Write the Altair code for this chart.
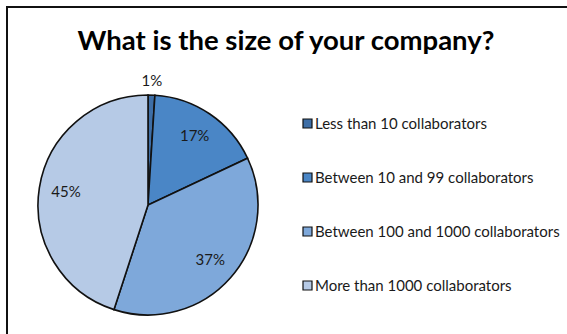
import altair as alt
import pandas as pd

# Survey answers: company size
categories = [
    "Less than 10 collaborators",
    "Between  10 and 99 collaborators",
    "Between  100 and 1000 collaborators",
    "More than 1000 collaborators",
]
shares = [1, 17, 37, 45]
slice_colors = ["#3e6ea6", "#4a86c6", "#7ea8da", "#b6cae6"]

df = pd.DataFrame({
    "category": categories,
    "share": shares,
    "idx": list(range(len(categories))),
})
df["label"] = [f"{v}%" for v in shares]

FONT = "Lato"
CX, CY, R = 141, 198, 110

base = alt.Chart(df).encode(
    theta=alt.Theta("share:Q", stack=True),
    order=alt.Order("idx:Q", sort="ascending"),
)

# outer frame of the chart area (runs off the right and bottom edges)
frame = alt.Chart(df).mark_rect(
    fill=None, stroke="#111111", strokeWidth=2
).encode(
    x=alt.value(0), x2=alt.value(600), y=alt.value(0), y2=alt.value(360)
)

pie = base.mark_arc(
    outerRadius=R, stroke="#111111", strokeWidth=1.6, x=CX, y=CY
).encode(
    color=alt.Color(
        "category:N",
        scale=alt.Scale(domain=categories, range=slice_colors),
        sort=categories,
        legend=alt.Legend(
            title=None,
            orient="none",
            legendX=293,
            legendY=109,
            padding=0,
            symbolType="square",
            symbolSize=81,
            symbolStrokeColor="#111111",
            symbolStrokeWidth=1.2,
            symbolOpacity=1,
            labelFont=FONT,
            labelFontSize=15,
            labelColor="#1a1a1a",
            labelOffset=0,
            labelLimit=400,
            rowPadding=38,
        ),
    )
)

inner_labels = base.transform_calculate(
    txt="datum.idx > 0 ? datum.label : ''"
).mark_text(
    radius=83, x=CX, y=CY, font=FONT, fontSize=15, color="#1a1a1a"
).encode(text="txt:N")

outer_labels = base.transform_calculate(
    txt="datum.idx == 0 ? datum.label : ''"
).mark_text(
    radius=124, x=CX, y=CY, font=FONT, fontSize=15, color="#1a1a1a"
).encode(text="txt:N")

chart = alt.layer(frame, pie, inner_labels, outer_labels).properties(
    width=560,
    height=327,
    padding={"left": 7, "top": 7, "right": 0, "bottom": 0},
    autosize=alt.AutoSizeParams(type="none"),
    title=alt.TitleParams(
        "What is the size of your company?",
        font=FONT,
        fontSize=27.5,
        fontWeight="bold",
        color="#000000",
        anchor="middle",
        frame="group",
        orient="top",
        offset=0,
        baseline="alphabetic",
        dx=-1,
        dy=71,
    ),
).configure_view(
    stroke=None
).configure(background="white")

chart.save("out.html", embed_options={"renderer": "svg", "actions": False})
